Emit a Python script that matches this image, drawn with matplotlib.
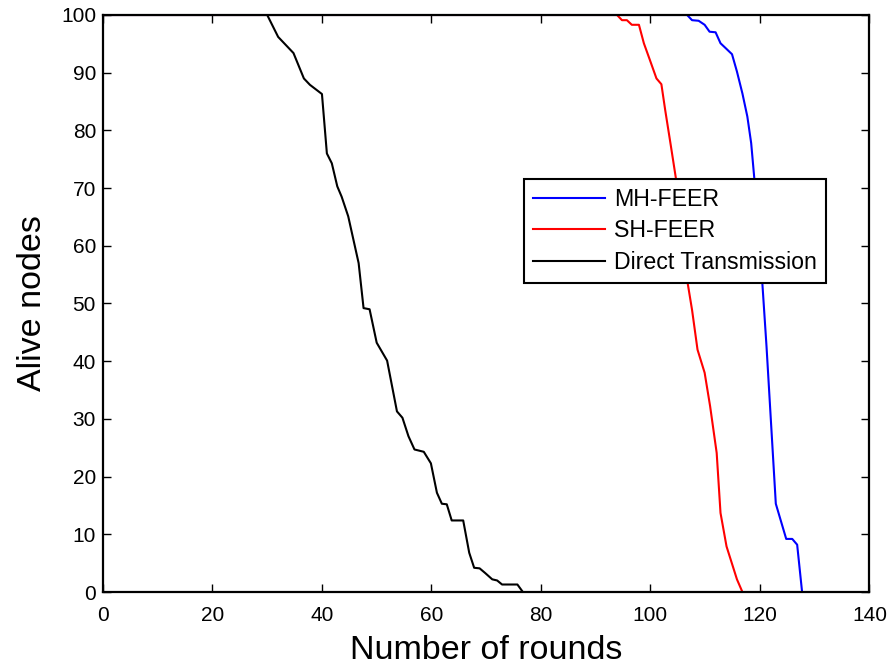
import matplotlib
matplotlib.use("Agg")
import matplotlib.pyplot as plt

# MH-FEER (blue)
mh_x = [0, 106.7, 107.6, 108.8, 109.9, 110.8, 111.9, 112.8, 113.8, 114.9, 115.8,
        116.8, 117.7, 118.4, 119.0, 120.1, 120.4, 121.2, 122.9, 124.8, 125.9, 126.8, 127.7]
mh_y = [100, 100, 99.1, 99.0, 98.3, 97.1, 97.0, 95.1, 94.2, 93.2, 90.2,
        86.4, 82.4, 77.8, 71.4, 60, 54.1, 42.6, 15.3, 9.2, 9.2, 8.2, 0]

# SH-FEER (red)
sh_x = [0, 93.9, 94.8, 95.7, 96.6, 97.9, 98.8, 99.9, 101.1, 102.0, 102.7, 103.7,
        104.7, 105.0, 106.7, 107.6, 108.6, 109.9, 110.9, 112.1, 112.8, 113.9, 115.8, 116.8]
sh_y = [100, 100, 99.1, 99.1, 98.3, 98.3, 95.1, 92.2, 89.0, 88.0, 83.5, 77.5,
        71.4, 69.5, 54.1, 48.9, 42.0, 38.0, 32.2, 24.1, 13.7, 7.9, 2.2, 0]

# Direct Transmission (black)
dt_x = [0, 30.0, 32.0, 34.8, 36.7, 37.8, 40.0, 40.9, 41.8, 42.8, 43.6, 44.8, 46.7,
        47.6, 48.7, 50.0, 51.9, 53.7, 54.7, 55.8, 56.9, 58.6, 59.9, 61.0, 61.9,
        62.8, 63.7, 65.8, 66.9, 67.8, 68.8, 69.8, 71.1, 72.0, 72.9, 75.7, 76.7]
dt_y = [100, 100, 96.2, 93.4, 89.0, 87.9, 86.3, 76.0, 74.3, 70.3, 68.5, 65.1, 57.0,
        49.2, 49.0, 43.2, 40.1, 31.3, 30.2, 27.0, 24.7, 24.3, 22.3, 17.2, 15.3,
        15.2, 12.4, 12.4, 6.8, 4.2, 4.1, 3.3, 2.2, 2.0, 1.3, 1.3, 0]

x_ticks = [0, 20, 40, 60, 80, 100, 120, 140]
y_ticks = [0, 10, 20, 30, 40, 50, 60, 70, 80, 90, 100]

plt.rcParams['font.family'] = ['Liberation Sans', 'DejaVu Sans']

fig = plt.figure(figsize=(8.93, 6.66), dpi=100)
ax = fig.add_axes([0.1153, 0.1111, 0.8583, 0.8664])

ax.plot(mh_x, mh_y, color='#0000ff', lw=1.5, label='MH-FEER')
ax.plot(sh_x, sh_y, color='#ff0000', lw=1.5, label='SH-FEER')
ax.plot(dt_x, dt_y, color='black', lw=1.5, label='Direct Transmission')

ax.set_xlim(0, 140)
ax.set_ylim(0, 100)
ax.set_xticks(x_ticks)
ax.set_yticks(y_ticks)
ax.tick_params(direction='in', length=6, width=1.0, top=True, right=True,
               labelsize=15)
ax.tick_params(axis='x', pad=10)
ax.tick_params(axis='y', pad=5)
for s in ax.spines.values():
    s.set_linewidth(1.6)

ax.set_xlabel('Number of rounds', fontsize=24.5, labelpad=7)
ax.set_ylabel('Alive nodes', fontsize=24.5, labelpad=9)

leg = ax.legend(loc='upper left', bbox_to_anchor=(0.549, 0.716), fontsize=16.7,
                frameon=True, fancybox=False, edgecolor='black', framealpha=1,
                handlelength=3.1, borderpad=0.4, labelspacing=0.36,
                handletextpad=0.4, borderaxespad=0)
leg.get_frame().set_linewidth(1.5)

fig.savefig('out.png', dpi=100)
